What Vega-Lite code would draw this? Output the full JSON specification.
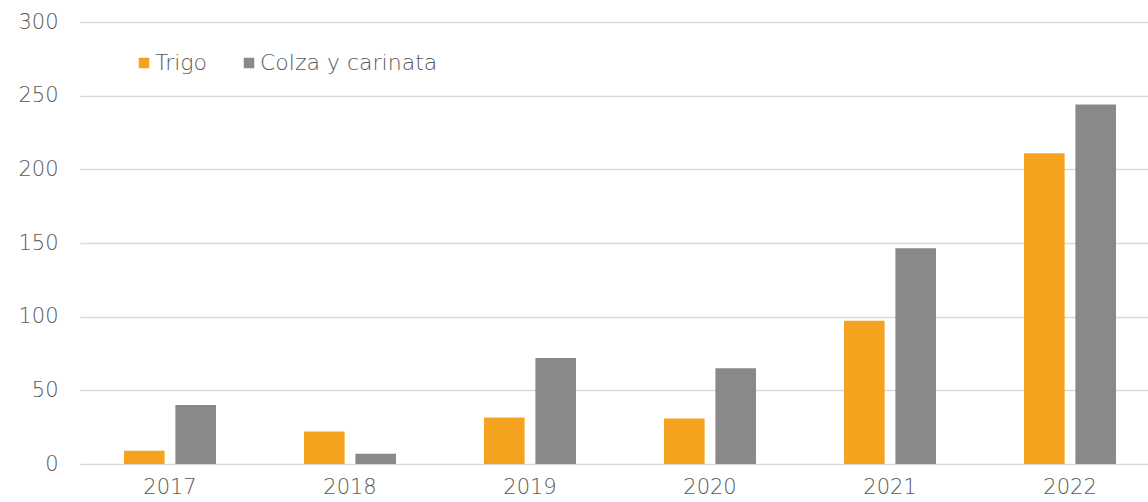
{
  "$schema": "https://vega.github.io/schema/vega-lite/v6.json",
  "width": 1080,
  "height": 442,
  "autosize": {"type": "none"},
  "padding": {"left": 80, "top": 22, "right": 0, "bottom": 38},
  "background": "white",
  "data": {"values": [
    {"year": "2017", "serie": "Trigo", "value": 9},
    {"year": "2017", "serie": "Colza y carinata", "value": 40},
    {"year": "2018", "serie": "Trigo", "value": 22},
    {"year": "2018", "serie": "Colza y carinata", "value": 7},
    {"year": "2019", "serie": "Trigo", "value": 31.5},
    {"year": "2019", "serie": "Colza y carinata", "value": 72},
    {"year": "2020", "serie": "Trigo", "value": 30.8},
    {"year": "2020", "serie": "Colza y carinata", "value": 65},
    {"year": "2021", "serie": "Trigo", "value": 97.2},
    {"year": "2021", "serie": "Colza y carinata", "value": 146.5},
    {"year": "2022", "serie": "Trigo", "value": 211},
    {"year": "2022", "serie": "Colza y carinata", "value": 244}
  ]},
  "config": {
    "view": {"stroke": null},
    "font": "DejaVu Sans"
  },
  "mark": {"type": "bar"},
  "encoding": {
    "x": {
      "field": "year", "type": "nominal",
      "scale": {"paddingInner": 0.489, "paddingOuter": 0.2444},
      "axis": {"title": null, "labelAngle": 0, "domain": false, "ticks": false, "labelFontSize": 21, "labelFontWeight": 200, "labelColor": "#595959", "labelPadding": 12, "labelFont": "DejaVu Sans"}
    },
    "xOffset": {"field": "serie", "type": "nominal", "sort": ["Trigo", "Colza y carinata"], "scale": {"paddingInner": 0.21, "paddingOuter": 0}},
    "y": {
      "field": "value", "type": "quantitative",
      "scale": {"domain": [0, 300]},
      "axis": {"title": null, "values": [0, 50, 100, 150, 200, 250, 300], "domain": false, "ticks": false, "labelFontSize": 21, "labelFontWeight": 200, "labelColor": "#595959", "labelPadding": 22, "gridColor": "#d9d9d9", "gridWidth": 1.5, "labelFont": "DejaVu Sans"}
    },
    "color": {
      "field": "serie", "type": "nominal",
      "sort": ["Trigo", "Colza y carinata"],
      "scale": {"domain": ["Trigo", "Colza y carinata"], "range": ["#F5A31F", "#898989"]},
      "legend": {
        "title": null, "orient": "none", "legendX": 53, "legendY": 30, "direction": "horizontal",
        "symbolType": "square", "symbolSize": 110, "symbolStrokeWidth": 0,
        "labelFontSize": 22, "labelFontWeight": 200, "labelColor": "#595959", "labelFont": "DejaVu Sans", "labelOffset": 0, "labelLimit": 500, "columnPadding": 30
      }
    }
  }
}
